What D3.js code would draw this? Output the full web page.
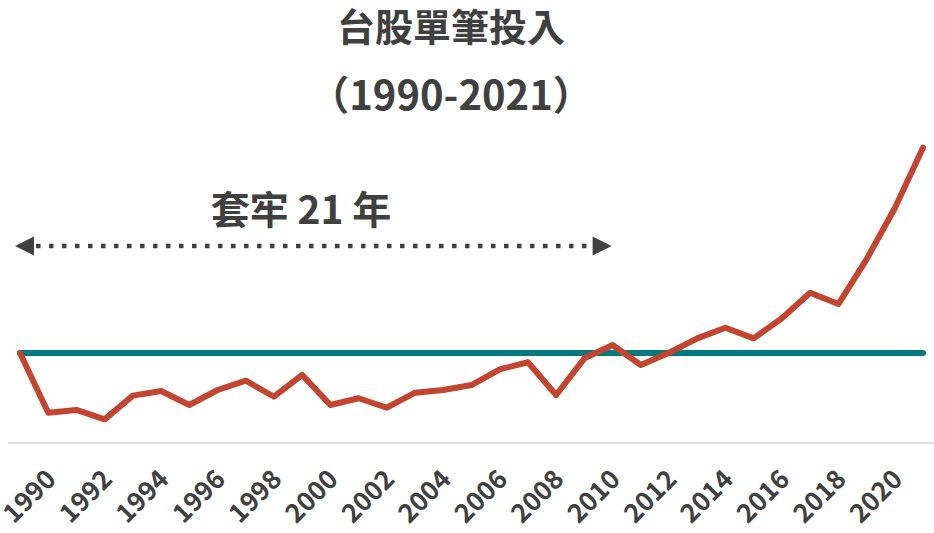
<!DOCTYPE html>
<html>
<head>
<meta charset="utf-8">
<script src="https://cdn.jsdelivr.net/npm/d3@7"></script>
<style>
  html, body { margin: 0; padding: 0; background: #fff; }
  svg { display: block; }
  text { font-family: "Noto Sans CJK TC", "Noto Sans CJK SC", "Noto Sans", sans-serif; font-weight: 700; fill: #404040; }
</style>
</head>
<body>
<svg id="chart" width="934" height="533"></svg>
<script>
// ---- data ----
const years = d3.range(1990, 2023); // 33 points (start of 1990 … end of 2021)
const portfolioValues = [100, 33.7, 36.7, 26.3, 52.6, 57.8, 42.2, 58.9, 69.2, 51.4,
  75.6, 42.2, 49.7, 39.2, 55.9, 58.9, 64.4, 81.9, 89.7, 53.3,
  94.1, 108.9, 86.7, 100.3, 116.3, 128.1, 116.3, 138.6, 167.0, 154.4,
  204.1, 260.8, 328.1];
const principalValues = years.map(() => 100);
const tickLabels = [1990, 1992, 1994, 1996, 1998, 2000, 2002, 2004, 2006, 2008,
  2010, 2012, 2014, 2016, 2018, 2020];
const titleLines = ["台股單筆投入", "（1990-2021）"];
const annotationText = "套牢 21 年";
const trappedStart = 1990, trappedEnd = 2011;

// ---- layout ----
const W = 934, H = 533;
const svg = d3.select("#chart");
const x = d3.scalePoint().domain(years).range([20, 923]);
const y = d3.scaleLinear().domain([0, 350]).range([443, 128]);

// baseline axis line
svg.append("line")
  .attr("x1", 8).attr("x2", W)
  .attr("y1", y(0)).attr("y2", y(0))
  .attr("stroke", "#d9d9d9").attr("stroke-width", 1.5);

// x axis labels
const xAxis = d3.axisBottom(x).tickValues(tickLabels).tickSize(0).tickFormat(d => d);
const gx = svg.append("g").attr("transform", `translate(0,${y(0)})`).call(xAxis);
gx.select(".domain").remove();
gx.selectAll(".tick text")
  .attr("x", 0).attr("y", 0).attr("dy", 0)
  .attr("text-anchor", "end")
  .attr("transform", "translate(37,38) rotate(-45)")
  .style("font-size", "26px")
  .style("font-family", "'Noto Sans CJK TC', sans-serif")
  .style("font-weight", "700")
  .attr("fill", "#404040");

// principal line (teal)
const line = d3.line().x((d, i) => x(years[i])).y(d => y(d));
svg.append("path")
  .datum(principalValues)
  .attr("d", line)
  .attr("fill", "none")
  .attr("stroke", "#007A7E")
  .attr("stroke-width", 6)
  .attr("stroke-linecap", "round");

// portfolio line (red)
svg.append("path")
  .datum(portfolioValues)
  .attr("d", line)
  .attr("fill", "none")
  .attr("stroke", "#C4452F")
  .attr("stroke-width", 6)
  .attr("stroke-linejoin", "round")
  .attr("stroke-linecap", "round");

// titles
svg.append("text").attr("x", 451).attr("y", 41)
  .attr("text-anchor", "middle").style("font-size", "38px").text(titleLines[0]);
svg.append("text").attr("x", 451).attr("y", 110)
  .attr("text-anchor", "middle").style("font-size", "40px").text(titleLines[1]);

// annotation
const ax1 = x(trappedStart) - 5, ax2 = x(trappedEnd) - 1, ay = 246;
svg.append("text").attr("x", 301).attr("y", 224)
  .attr("text-anchor", "middle").style("font-size", "39px").text(annotationText);
svg.append("line")
  .attr("x1", ax1 + 21).attr("x2", ax2 - 19)
  .attr("y1", ay).attr("y2", ay)
  .attr("stroke", "#404040").attr("stroke-width", 4.5)
  .attr("stroke-dasharray", "4.5,8.5");
svg.append("path")
  .attr("d", `M${ax1},${ay} L${ax1 + 19},${ay - 9.5} L${ax1 + 19},${ay + 9.5} Z`)
  .attr("fill", "#404040");
svg.append("path")
  .attr("d", `M${ax2},${ay} L${ax2 - 19},${ay - 9.5} L${ax2 - 19},${ay + 9.5} Z`)
  .attr("fill", "#404040");
</script>
</body>
</html>
